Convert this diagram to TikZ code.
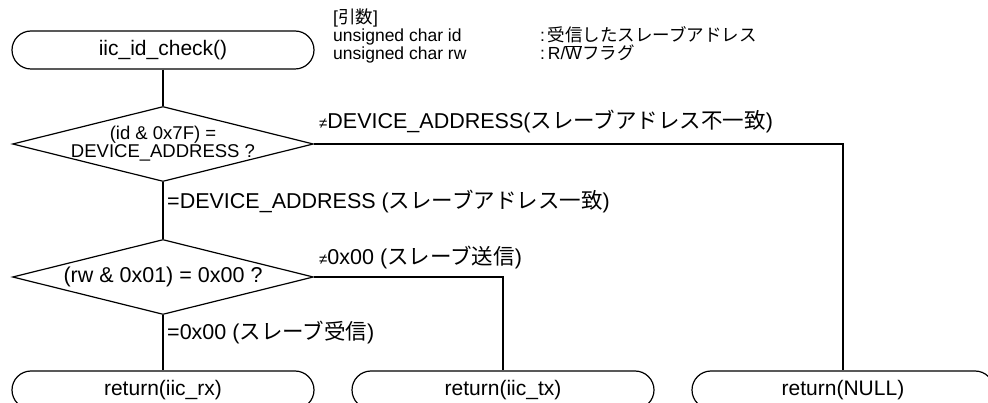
\documentclass[tikz,border=0pt]{standalone}
\usepackage{fontspec}
\setmainfont{Liberation Sans}
\newfontfamily\jp{Noto Sans CJK JP}
\usetikzlibrary{shapes.geometric}
\begin{document}
\begin{tikzpicture}[x=1pt,y=-1pt,
  conn/.style={line width=1.2pt},
  term/.style={draw, line width=1.2pt, rounded corners=19pt, minimum width=302pt, minimum height=38pt, inner sep=0pt, font=\fontsize{21}{24}\selectfont},
  dec/.style={draw, diamond, line width=1.2pt, minimum width=301pt, minimum height=75pt, inner sep=0pt},
  dtext/.style={align=center, inner sep=0pt, font=\fontsize{18.5}{16}\selectfont},
  lbl/.style={anchor=base west, inner sep=0pt, font=\fontsize{21.5}{24}\selectfont},
  ann/.style={anchor=base west, inner sep=0pt, font=\fontsize{17.5}{17}\selectfont}]
\useasboundingbox (0,0) rectangle (988,403);
\clip (0,0) rectangle (988,403);
% nodes
\node[term] (start) at (163,50) {iic\_id\_check()};
\node[dec] (d1) at (163,144) {};
\node[dtext] (d1t) at (163,144) {(id \& 0x7F) =\\DEVICE\_ADDRESS ?};
\node[dec] (d2) at (163,277) {};
\node[dtext, font=\fontsize{21.5}{24}\selectfont] (d2t) at (163,277) {(rw \& 0x01) = 0x00 ?};
\node[term] (rx) at (163,390) {return(iic\_rx)};
\node[term] (tx) at (503,390) {return(iic\_tx)};
\node[term] (null) at (843,390) {return(NULL)};
% annotation
\node[ann] (a0) at (333,24) {[{\jp 引数}]};
\node[ann] (a1) at (333,42) {unsigned char id};
\node[ann] (a2) at (333,60) {unsigned char rw};
\node[ann] (a3) at (540,42) {:\,{\jp 受信したスレーブアドレス}};
\node[ann] (a4) at (540,60) {:\,R/$\overline{\mbox{W}}${\jp フラグ}};
% connectors
\draw[conn] (start) -- (d1);
\draw[conn] (d1) -- (d2);
\draw[conn] (d2) -- (rx);
\draw[conn] (d1.east) -| (null.north);
\draw[conn] (d2.east) -| (tx.north);
% labels
\node[lbl] (l1) at (319,129) {{\fontsize{15}{15}\selectfont ≠}DEVICE\_ADDRESS({\jp スレーブアドレス不一致})};
\node[lbl] (l2) at (167,209) {=DEVICE\_ADDRESS ({\jp スレーブアドレス一致})};
\node[lbl] (l3) at (319,265) {{\fontsize{15}{15}\selectfont ≠}0x00 ({\jp スレーブ送信})};
\node[lbl] (l4) at (167,339) {=0x00 ({\jp スレーブ受信})};
\end{tikzpicture}
\end{document}
